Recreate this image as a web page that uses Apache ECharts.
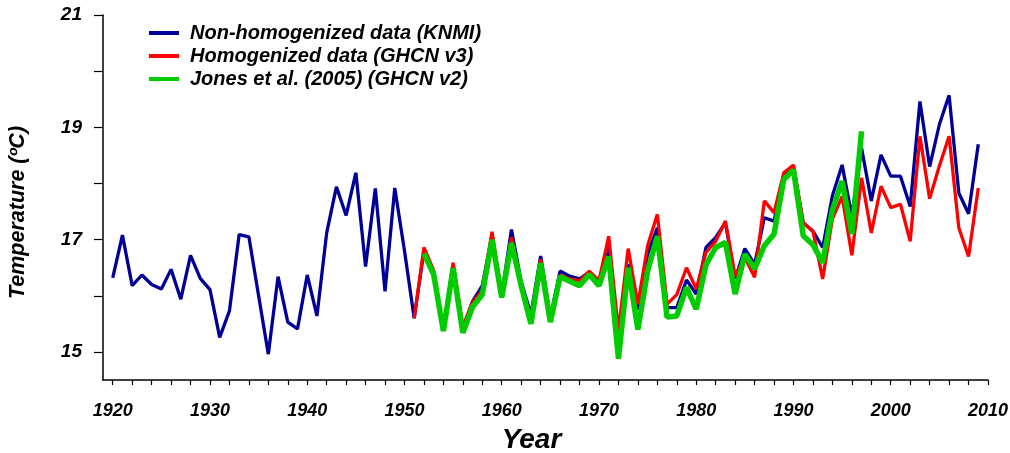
<!DOCTYPE html>
<html>
<head>
<meta charset="utf-8">
<title>Temperature</title>
<script src="https://cdn.jsdelivr.net/npm/echarts@6/dist/echarts.min.js"></script>
<style>
  html, body { margin: 0; padding: 0; background: #fff; }
  #chart { width: 1010px; height: 453px; }
</style>
</head>
<body>
<div id="chart"></div>
<script>
// annual mean temperature (ºC)
var knmiStart = 1920;
var knmi = [
  16.32, 17.08, 16.18, 16.37, 16.20, 16.12, 16.47, 15.94, 16.72, 16.31,
  16.11, 15.26, 15.73, 17.09, 17.05, 16.00, 14.96, 16.34, 15.53, 15.41,
  16.37, 15.64, 17.12, 17.94, 17.43, 18.19, 16.52, 17.91, 16.08, 17.92,
  16.80, 15.60, 16.80, 16.42, 15.40, 16.55, 15.42, 15.90, 16.18, 17.08,
  16.02, 17.18, 16.25, 15.67, 16.71, 15.62, 16.44, 16.35, 16.30, 16.42,
  16.22, 16.86, 15.20, 16.56, 15.75, 16.74, 17.21, 15.79, 15.79, 16.28,
  16.03, 16.86, 17.04, 17.30, 16.30, 16.84, 16.56, 17.39, 17.33, 18.15,
  18.30, 17.30, 17.15, 16.86, 17.78, 18.33, 17.42, 18.63, 17.69, 18.51,
  18.13, 18.13, 17.59, 19.46, 18.30, 19.05, 19.57, 17.83, 17.46, 18.70
];
var ghcn3Start = 1951;
var ghcn3 = [
  15.60, 16.86, 16.45, 15.40, 16.59, 15.45, 15.88, 16.10, 17.14,
  16.00, 17.04, 16.22, 15.55, 16.65, 15.58, 16.37, 16.30, 16.27, 16.44,
  16.27, 17.06, 15.38, 16.84, 15.85, 16.89, 17.45, 15.85, 16.02, 16.50,
  16.12, 16.77, 16.97, 17.33, 16.35, 16.68, 16.33, 17.69, 17.48, 18.19,
  18.33, 17.30, 17.15, 16.30, 17.37, 17.77, 16.72, 18.10, 17.12, 17.95,
  17.57, 17.63, 16.97, 18.84, 17.73, 18.31, 18.84, 17.21, 16.70, 17.92
];
var jonesStart = 1952;
var jones = [
  16.75, 16.38, 15.37, 16.49, 15.34, 15.80, 16.02, 17.00,
  15.97, 16.94, 16.18, 15.50, 16.58, 15.53, 16.34, 16.26, 16.18, 16.38,
  16.18, 16.70, 14.88, 16.50, 15.40, 16.44, 17.06, 15.62, 15.64, 16.15,
  15.76, 16.55, 16.86, 16.95, 16.03, 16.74, 16.48, 16.89, 17.10, 18.07,
  18.24, 17.07, 16.91, 16.59, 17.53, 18.04, 17.10, 18.93
];
var seriesNames = [
  'Non-homogenized data (KNMI)',
  'Homogenized data (GHCN v3)',
  'Jones et al. (2005) (GHCN v2)'
];
var yearTicks = [];
for (var y = 1920; y <= 2010; y += 2) yearTicks.push(y);
var yearLabels = [1920, 1930, 1940, 1950, 1960, 1970, 1980, 1990, 2000, 2010];
var tempTicks = [15, 16, 17, 18, 19, 20, 21];
var tempLabels = [15, 17, 19, 21];

function pairs(start, vals) {
  return vals.map(function (v, i) { return [start + i, v]; });
}

var font = 'Liberation Sans, Arial, sans-serif';
var chart = echarts.init(document.getElementById('chart'));
chart.setOption({
  animation: false,
  grid: { left: 103, right: 22, top: 15, bottom: 73, outerBoundsMode: 'none', containLabel: false },
  legend: {
    orient: 'vertical',
    left: 149,
    top: 23,
    padding: 0,
    icon: 'rect',
    itemWidth: 30,
    itemHeight: 4,
    itemGap: 3,
    data: seriesNames,
    textStyle: {
      fontFamily: font, fontSize: 20, fontWeight: 'bold', fontStyle: 'italic',
      color: '#000', lineHeight: 20, padding: [0, 0, 0, 6]
    }
  },
  xAxis: {
    type: 'value',
    min: 1919,
    max: 2010,
    name: 'Year',
    nameLocation: 'middle',
    nameGap: 46,
    nameTextStyle: {
      fontFamily: font, fontSize: 28, fontWeight: 'bold', fontStyle: 'italic',
      color: '#000', padding: [0, 28, 0, 0]
    },
    splitLine: { show: false },
    axisLine: { onZero: false, lineStyle: { color: '#000', width: 1.5 } },
    axisTick: { customValues: yearTicks, length: 5, lineStyle: { color: '#000', width: 1.2 } },
    axisLabel: {
      customValues: yearLabels, margin: 22,
      formatter: function (v) { return String(v); },
      fontFamily: font, fontSize: 18, fontWeight: 'bold', fontStyle: 'italic', color: '#000'
    }
  },
  yAxis: {
    type: 'value',
    min: 14.5,
    max: 21,
    name: 'Temperature (ºC)',
    nameLocation: 'middle',
    nameGap: 74,
    nameTextStyle: {
      fontFamily: font, fontSize: 21.5, fontWeight: 'bold', fontStyle: 'italic',
      color: '#000', padding: [0, 30, 0, 0]
    },
    splitLine: { show: false },
    axisLine: { show: true, onZero: false, lineStyle: { color: '#000', width: 1.5 } },
    axisTick: { customValues: tempTicks, length: 9, lineStyle: { color: '#000', width: 1.2 } },
    axisLabel: {
      customValues: tempLabels, margin: 21,
      fontFamily: font, fontSize: 19, fontWeight: 'bold', fontStyle: 'italic', color: '#000'
    }
  },
  series: [
    {
      name: seriesNames[0], type: 'line', data: pairs(knmiStart, knmi),
      showSymbol: false, symbol: 'none', color: '#000099',
      lineStyle: { color: '#000099', width: 3.3 }
    },
    {
      name: seriesNames[1], type: 'line', data: pairs(ghcn3Start, ghcn3),
      showSymbol: false, symbol: 'none', color: '#ff0000',
      lineStyle: { color: '#ff0000', width: 3.3 }
    },
    {
      name: seriesNames[2], type: 'line', data: pairs(jonesStart, jones),
      showSymbol: false, symbol: 'none', color: '#00cc00',
      lineStyle: { color: '#00cc00', width: 5.5 }
    }
  ]
});
</script>
</body>
</html>
